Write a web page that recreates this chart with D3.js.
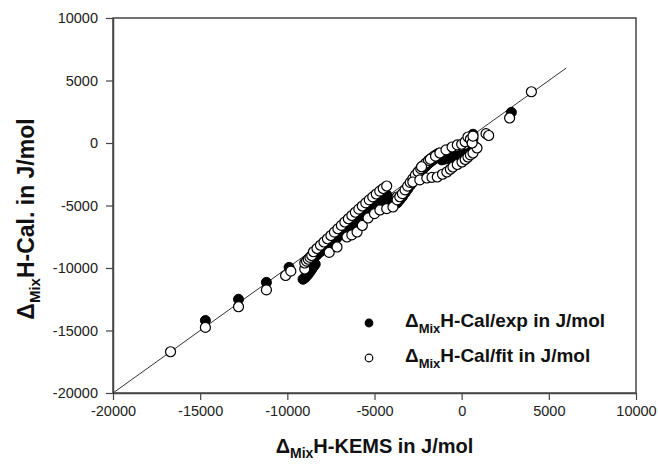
<!DOCTYPE html>
<html>
<head>
<meta charset="utf-8">
<script src="https://cdn.jsdelivr.net/npm/d3@7"></script>
<style>
  body { margin: 0; background: #fff; }
  svg text { font-family: "Liberation Sans", Arial, sans-serif; }
</style>
</head>
<body>
<svg id="chart"></svg>
<script>
// axis ticks
const xTicks = [-20000, -15000, -10000, -5000, 0, 5000, 10000];
const yTicks = [-20000, -15000, -10000, -5000, 0, 5000, 10000];

// parity line end points (KEMS = Cal)
const lineX = [-20000, 6000];

// ΔMixH-Cal/exp (filled)
const expX = [-14700, -12800, -11200, -9900,
  -9100, -9000, -8900, -8800, -8700, -8600, -8500, -8400,
  -8500, -8300, -8100, -7900, -7700, -7500, -7300, -7100, -6900, -6700, -6500,
  -6300, -6100, -5900, -5700, -5500, -5300, -5100, -4900, -4700, -4500, -4300,
  -8700, -8400, -8100, -7800, -7500, -7200, -6900, -6600, -6300, -6000, -5700,
  -5400, -5100, -4800, -4500, -4200, -3900,
  -3700, -3550, -3400, -3250, -3100, -2950, -2800, -2650, -2500, -2350, -2200,
  -2050, -1900, -1750, -1600, -1450, -1300,
  -1150, -1000, -850, -700, -550, -400, -250, -100, 50, 200, 350, 500, 600, 700, 800,
  650, 650, 2850];
const expY = [-14200, -12500, -11150, -9950,
  -10900, -10800, -10650, -10500, -10300, -10100, -9900, -9700,
  -9200, -8950, -8700, -8450, -8200, -7950, -7700, -7450, -7200, -6950, -6700,
  -6450, -6200, -5960, -5720, -5480, -5240, -5010, -4780, -4560, -4350, -4150,
  -9200, -8900, -8590, -8280, -7970, -7660, -7350, -7040, -6730, -6420, -6110,
  -5800, -5480, -5170, -4860, -4560, -4500,
  -4800, -4550, -4300, -4000, -3700, -3400, -3100, -2800, -2550, -2300, -2050,
  -1850, -1650, -1480, -1320, -1180, -1060,
  -1350, -1300, -1250, -1200, -1150, -1100, -1050, -1000, -950, -900, -850, -750, -600, -450, -300,
  700, 350, 2450];

// ΔMixH-Cal/fit (open)
const fitX = [-16700, -14700, -12800, -11200, -10100, -9800, -9000,
  -9000, -8900, -8800, -8700, -8600,
  -8500, -8300, -8100, -7900, -7700, -7500, -7300, -7100, -6900, -6700, -6500,
  -6300, -6100, -5900, -5700, -5500, -5300, -5100, -4900, -4700, -4500, -4300,
  -7600, -7150, -6580, -6300, -6000, -5700, -5370, -5000, -4690, -4300, -3940, -3710,
  -3700, -3550, -3400, -3250, -3100, -2950, -2800, -2650, -2500, -2350, -2200,
  -2050, -1900, -1750, -1600, -1450, -1300,
  -2800, -2400, -2000, -1700, -1400, -1100, -850, -650, -500, -250, 20, 200, 360, 500, 650, 880,
  -2300, -1800, -1500, -1250, -900, -550, -250, 0, 200, 360, 500,
  600, 650, 1400, 1550, 2750, 4000];
const fitY = [-16700, -14750, -13100, -11750, -10600, -10250, -10080,
  -9600, -9450, -9300, -9150, -9000,
  -8700, -8440, -8180, -7920, -7660, -7400, -7130, -6860, -6590, -6320, -6060,
  -5800, -5540, -5290, -5040, -4790, -4550, -4310, -4080, -3850, -3640, -3440,
  -8750, -8320, -7520, -7350, -7120, -6600, -6000, -5650, -5360, -5250, -5120, -4320,
  -4550, -4300, -4050, -3750, -3450, -3150, -2850, -2550, -2300, -2050, -1800,
  -1600, -1400, -1230, -1070, -930, -810,
  -3120, -2950, -2800, -2750, -2720, -2500, -2320, -2100, -1920, -1720, -1520, -1320, -1120, -950, -800, -400,
  -1900, -1300, -1050, -800, -550, -320, -150, -100, 100, 480, 300,
  0, 550, 750, 600, 2000, 4100];

const W = 658, H = 464;
const margin = { top: 18, right: 22, bottom: 71, left: 113 };
const width = W - margin.left - margin.right;
const height = H - margin.top - margin.bottom;

const svg = d3.select('#chart')
  .attr('width', W)
  .attr('height', H);

const g = svg.append('g')
  .attr('transform', `translate(${margin.left}, ${margin.top})`);

const xScale = d3.scaleLinear().domain([-20000, 10000]).range([0, width]);
const yScale = d3.scaleLinear().domain([-20000, 10000]).range([height, 0]);

// frame
g.append('rect')
  .attr('width', width)
  .attr('height', height)
  .attr('fill', 'none')
  .attr('stroke', '#444')
  .attr('stroke-width', 1.5);

// plain hyphen-minus labels, as in the original
const tickFmt = d => String(d);
const xAxis = d3.axisBottom(xScale).tickValues(xTicks).tickSize(7).tickPadding(6).tickSizeOuter(0).tickFormat(tickFmt);
const yAxis = d3.axisLeft(yScale).tickValues(yTicks).tickSize(7).tickPadding(8).tickSizeOuter(0).tickFormat(tickFmt);

const gx = g.append('g')
  .attr('transform', `translate(0, ${height})`)
  .call(xAxis);
const gy = g.append('g').call(yAxis);

[gx, gy].forEach(a => {
  a.selectAll('path').attr('stroke', '#444').attr('stroke-width', 1.5);
  a.selectAll('line').attr('stroke', '#444').attr('stroke-width', 1.2);
  a.selectAll('text')
    .attr('fill', '#222')
    .style('font-size', '14.5px')
    .style('font-family', '"Liberation Sans", Arial, sans-serif');
});

// parity line
g.append('line')
  .attr('x1', xScale(lineX[0])).attr('y1', yScale(lineX[0]))
  .attr('x2', xScale(lineX[1])).attr('y2', yScale(lineX[1]))
  .attr('stroke', '#333')
  .attr('stroke-width', 1);

// points
const expData = expX.map((d, i) => [d, expY[i]]);
const fitData = fitX.map((d, i) => [d, fitY[i]]);

g.selectAll('.exp')
  .data(expData)
  .enter()
  .append('circle')
  .attr('class', 'exp')
  .attr('cx', d => xScale(d[0]))
  .attr('cy', d => yScale(d[1]))
  .attr('r', 5)
  .attr('fill', '#000')
  .attr('stroke', '#000')
  .attr('stroke-width', 1);

g.selectAll('.fit')
  .data(fitData)
  .enter()
  .append('circle')
  .attr('class', 'fit')
  .attr('cx', d => xScale(d[0]))
  .attr('cy', d => yScale(d[1]))
  .attr('r', 5)
  .attr('fill', '#fff')
  .attr('stroke', '#000')
  .attr('stroke-width', 1.2);

// legend
const legend = [
  { label: 'H-Cal/exp in J/mol', fill: '#000' },
  { label: 'H-Cal/fit in J/mol', fill: '#fff' }
];
const lg = svg.append('g');
legend.forEach((d, i) => {
  const y = 323 + i * 35;
  lg.append('circle')
    .attr('cx', 369).attr('cy', y)
    .attr('r', 3.8)
    .attr('fill', d.fill)
    .attr('stroke', '#000')
    .attr('stroke-width', 1.2);
  const t = lg.append('text')
    .attr('x', 405).attr('y', y + 4)
    .style('font-size', '19px')
    .style('font-weight', 'bold')
    .attr('fill', '#111');
  t.append('tspan').text('Δ');
  t.append('tspan').attr('dy', 6).style('font-size', '13px').text('Mix');
  t.append('tspan').attr('dy', -6).text(d.label);
});

// x title
const xt = svg.append('text')
  .attr('x', margin.left + width / 2)
  .attr('y', 453)
  .attr('text-anchor', 'middle')
  .style('font-size', '20px')
  .style('font-weight', 'bold')
  .attr('fill', '#111');
xt.append('tspan').text('Δ');
xt.append('tspan').attr('dy', 5).style('font-size', '14px').text('Mix');
xt.append('tspan').attr('dy', -5).text('H-KEMS in J/mol');

// y title
const yt = svg.append('text')
  .attr('transform', `translate(34, 219) rotate(-90)`)
  .attr('text-anchor', 'middle')
  .style('font-size', '23px')
  .style('font-weight', 'bold')
  .attr('fill', '#111');
yt.append('tspan').text('Δ');
yt.append('tspan').attr('dy', 6).style('font-size', '15px').text('Mix');
yt.append('tspan').attr('dy', -6).text('H-Cal. in J/mol');
</script>
</body>
</html>
